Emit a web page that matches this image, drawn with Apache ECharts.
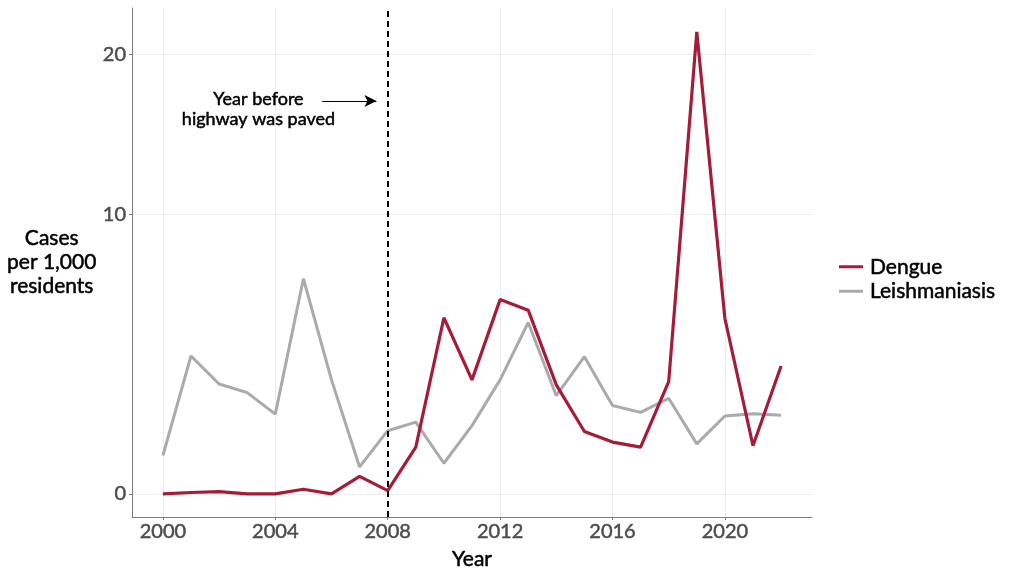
<!DOCTYPE html>
<html>
<head>
<meta charset="utf-8">
<script src="https://cdn.jsdelivr.net/npm/echarts@6/dist/echarts.min.js"></script>
<style>html,body{margin:0;padding:0;background:#fff;}#c{width:1024px;height:578px;}</style>
</head>
<body>
<div id="c"></div>
<script>
const years = [2000,2001,2002,2003,2004,2005,2006,2007,2008,2009,2010,2011,2012,2013,2014,2015,2016,2017,2018,2019,2020,2021,2022];
const dengue = [0, 0.003, 0.006, 0, 0, 0.019, 0, 0.145, 0.011, 0.65, 4.94, 2.54, 5.74, 5.27, 2.37, 1.01, 0.76, 0.65, 2.48, 21.6, 4.91, 0.68, 3.03];
const leishmaniasis = [0.48, 3.40, 2.40, 2.12, 1.47, 6.71, 2.54, 0.28, 1.03, 1.25, 0.34, 1.16, 2.54, 4.74, 2.02, 3.37, 1.72, 1.52, 1.94, 0.72, 1.42, 1.48, 1.44];
const yTicks = [0, 10, 20];
const xTicks = [2000, 2004, 2008, 2012, 2016, 2020];
const markerYear = 2008;
const noteText = 'Year before\nhighway was paved';

const P = 0.6538;
const f = v => Math.pow(Math.max(v, 0), P);
const finv = t => Math.pow(Math.max(t, 0), 1 / P);

const FONT = 'Lato';
const thick = c => ({ textBorderColor: c, textBorderWidth: 0.5 });
const chart = echarts.init(document.getElementById('c'));
const pairs = arr => years.map((y, i) => [y, f(arr[i])]);

chart.setOption({
  animation: false,
  textStyle: { fontFamily: FONT },
  grid: { left: 132, right: 212, top: 8, bottom: 61, containLabel: false },
  legend: {
    orient: 'vertical', left: 834, top: 251, itemGap: 3,
    itemWidth: 24, itemHeight: 3, icon: 'rect',
    data: ['Dengue', 'Leishmaniasis'],
    textStyle: Object.assign({ fontFamily: FONT, fontSize: 21, color: '#000', padding: [0, 0, 0, 2] }, thick('#000'))
  },
  xAxis: {
    type: 'value', min: 1998.9, max: 2023.1,
    name: 'Year', nameLocation: 'middle', nameGap: 32,
    nameTextStyle: Object.assign({ fontFamily: FONT, fontSize: 21, color: '#000' }, thick('#000')),
    axisLine: { show: true, onZero: false, lineStyle: { color: '#7a7a7a', width: 1 } },
    axisTick: { show: true, length: 3, customValues: xTicks, lineStyle: { color: '#7a7a7a' } },
    axisLabel: Object.assign({ customValues: xTicks, fontSize: 20, color: '#4d4d4d', margin: 5, formatter: v => String(v) }, thick('#4d4d4d')),
    splitLine: { show: true, lineStyle: { color: '#ebebeb', width: 1 } }
  },
  yAxis: {
    type: 'value', min: -0.373, max: 7.84,
    name: 'Cases\nper 1,000\nresidents', nameLocation: 'middle', nameRotate: 0, nameGap: 69,
    nameTextStyle: Object.assign({ fontFamily: FONT, fontSize: 21, color: '#000', align: 'center', verticalAlign: 'middle', lineHeight: 24, padding: [6, 0, 0, 0] }, thick('#000')),
    axisLine: { show: true, onZero: false, lineStyle: { color: '#7a7a7a', width: 1 } },
    axisTick: { show: true, length: 3, customValues: yTicks.map(f), lineStyle: { color: '#7a7a7a' } },
    axisLabel: Object.assign({ customValues: yTicks.map(f), fontSize: 20, color: '#4d4d4d', margin: 6, formatter: v => String(Math.round(finv(v))) }, thick('#4d4d4d')),
    splitLine: { show: true, lineStyle: { color: '#ebebeb', width: 1 } }
  },
  series: [
    {
      name: 'Leishmaniasis', type: 'line', data: pairs(leishmaniasis),
      showSymbol: false, symbol: 'none', color: '#aaaaaa',
      lineStyle: { color: '#aaaaaa', width: 3 }, z: 2,
      markLine: {
        silent: true, symbol: ['none', 'none'], label: { show: false },
        lineStyle: { color: '#000', type: [6, 4], width: 2 },
        data: [{ xAxis: markerYear }]
      }
    },
    {
      name: 'Dengue', type: 'line', data: pairs(dengue),
      showSymbol: false, symbol: 'none', color: '#a51c3a',
      lineStyle: { color: '#a51c3a', width: 3.2 }, z: 3,
      markLine: {
        silent: true, symbol: ['none', 'arrow'], symbolSize: [9, 12], label: { show: false },
        lineStyle: { color: '#000', type: 'solid', width: 1.2 },
        data: [[{ coord: [2005.67, 6.34] }, { coord: [2007.6, 6.34] }]]
      },
      markPoint: {
        silent: true, symbol: 'circle', symbolSize: 0,
        label: Object.assign({ show: true, formatter: noteText, fontFamily: FONT, fontSize: 18, color: '#000', lineHeight: 20, align: 'center', verticalAlign: 'middle' }, thick('#000')),
        data: [{ coord: [2003.4, 6.2] }]
      }
    }
  ]
});
</script>
</body>
</html>
